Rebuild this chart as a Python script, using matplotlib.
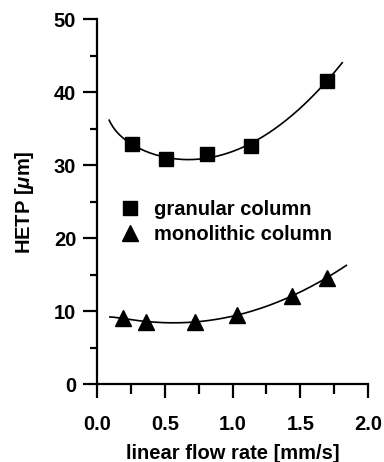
import numpy as np
import matplotlib
matplotlib.use("Agg")
import matplotlib.pyplot as plt
from matplotlib.ticker import MultipleLocator

# data
gran_u = [0.26, 0.51, 0.81, 1.14, 1.695]
gran_h = [32.9, 30.8, 31.5, 32.7, 41.6]
mono_u = [0.19, 0.36, 0.72, 1.035, 1.44, 1.695]
mono_h = [9.0, 8.55, 8.55, 9.45, 12.05, 14.6]
gran_fit_range = (0.09, 1.81)
mono_fit_range = (0.095, 1.84)

plt.rcParams['font.family'] = ['Liberation Sans', 'DejaVu Sans']
plt.rcParams['font.weight'] = 'bold'
plt.rcParams['mathtext.fontset'] = 'custom'
plt.rcParams['mathtext.it'] = 'Liberation Sans:italic:bold'
plt.rcParams['mathtext.rm'] = 'Liberation Sans:bold'

fig = plt.figure(figsize=(3.84, 4.62), dpi=100)
ax = fig.add_axes([97/384, 78/462, 271/384, 364.5/462])


def vd_fit(u, h, rng):
    u = np.asarray(u); h = np.asarray(h)
    M = np.column_stack([np.ones_like(u), 1/u, u, u**2])
    coef, *_ = np.linalg.lstsq(M, h, rcond=None)
    x = np.linspace(rng[0], rng[1], 200)
    return x, coef[0] + coef[1]/x + coef[2]*x + coef[3]*x**2


x, y = vd_fit(gran_u, gran_h, gran_fit_range)
ax.plot(x, y, color='black', lw=1.2, zorder=2)
x, y = vd_fit(mono_u, mono_h, mono_fit_range)
ax.plot(x, y, color='black', lw=1.2, zorder=2)

ax.plot(gran_u, gran_h, 's', color='black', ms=10, ls='none', zorder=3,
        label='granular column')
ax.plot(mono_u, mono_h, '^', color='black', ms=11, ls='none', zorder=3,
        label='monolithic column')

ax.set_xlim(0, 2)
ax.set_ylim(0, 50)
ax.xaxis.set_major_locator(MultipleLocator(0.5))
ax.xaxis.set_minor_locator(MultipleLocator(0.25))
ax.yaxis.set_major_locator(MultipleLocator(10))
ax.yaxis.set_minor_locator(MultipleLocator(5))
ax.xaxis.set_major_formatter(matplotlib.ticker.FormatStrFormatter('%.1f'))
for s in ['top', 'right']:
    ax.spines[s].set_visible(False)
for s in ['left', 'bottom']:
    ax.spines[s].set_linewidth(1.6)
ax.tick_params(which='major', length=10, width=1.6, labelsize=14.5, pad=5)
ax.tick_params(axis='x', which='major', pad=12.5)
ax.tick_params(axis='x', which='minor', length=7, width=1.6)
ax.tick_params(axis='y', which='minor', length=5, width=1.6)
ax.set_xlabel('linear flow rate [mm/s]', fontsize=14.5, fontweight='bold', labelpad=7)
ax.set_ylabel(r'HETP [$\mu$m]', fontsize=14.5, fontweight='bold', labelpad=13)

ax.legend(loc='center left', bbox_to_anchor=(0.077, 0.445), frameon=False,
          fontsize=14.5, handletextpad=0.6, labelspacing=0.3, handlelength=1.2,
          borderpad=0, borderaxespad=0)

fig.savefig('out.png', dpi=100)
